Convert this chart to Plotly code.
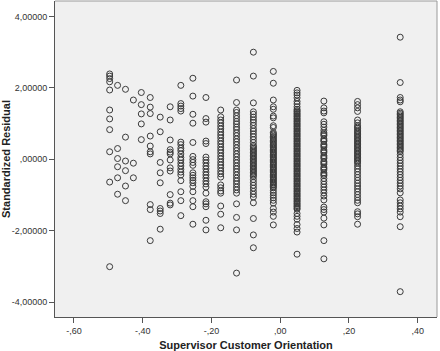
import plotly.graph_objects as go

# x levels (Supervisor Customer Orientation)
x_levels = [-0.496, -0.473, -0.450, -0.427, -0.404, -0.378, -0.349, -0.320, -0.289,
            -0.254, -0.216, -0.173, -0.127, -0.078, -0.020, 0.049, 0.127, 0.225, 0.349]

# standardized residuals per x level
res_a = [2.39, 2.33, 2.26, 2.17, 1.94, 1.38, 1.13, 0.83, 0.21, -0.64, -3.01]
res_b = [2.07, 0.30, 0.02, -0.21, -0.52, -0.98]
res_c = [1.96, 0.62, -0.05, -0.32, -0.75, -1.16]
res_d = [1.66, -0.11, -0.52]
res_e = [1.87, 1.53, 1.27, 0.99, 0.55]
res_f = [1.73, 1.46, 1.28, 0.65, 0.37, 0.21, 0.15, -1.27, -1.41, -2.28]
res_g = [1.18, 0.77, -0.09, -0.38, -0.66, -1.38, -1.45, -1.52, -1.96]
res_h = [1.47, 1.10, 0.54, 0.27, 0.20, 0.15, -0.02, -0.24, -0.33, -0.99, -1.23, -1.28]
res_i = [2.07, 1.56, 1.49, 1.42, 1.35, 0.48, 0.41, 0.31, 0.24, 0.15, 0.05, -0.02, -0.11,
         -0.19, -0.28, -0.36, -0.44, -0.60, -0.91, -1.16, -1.58]
res_j = [2.27, 1.77, 1.26, 1.01, 0.47, 0.08, -0.01, -0.09, -0.17, -0.38, -0.45, -0.52,
         -0.59, -0.66, -0.76, -0.91, -1.16, -1.33, -1.82]
res_k = [1.73, 1.14, 1.04, 0.51, 0.44, 0.06, -0.02, -0.10, -0.19, -0.27, -0.36, -0.44,
         -0.52, -0.61, -0.69, -0.78, -0.95, -1.19, -1.25, -1.33, -1.71, -1.98]
res_l = [1.38, 1.19, 1.10, 1.02, 0.93, 0.85, 0.76, 0.68, 0.60, 0.51, 0.43, 0.34, 0.26,
         0.18, 0.09, 0.01, -0.08, -0.16, -0.24, -0.33, -0.41, -0.50, -0.72, -0.80, -0.89,
         -0.95, -1.31, -1.54, -1.92]
res_m = [2.22, 1.59, 1.38, 1.31, 1.22, 1.14, 1.06, 0.99, 0.90, 0.83, 0.74, 0.66, 0.57,
         0.49, 0.41, 0.32, 0.24, 0.15, 0.07, -0.02, -0.10, -0.19, -0.27, -0.35, -0.44,
         -0.53, -0.61, -0.69, -0.78, -0.86, -0.95, -1.25, -1.63, -1.98, -3.19]
res_n = [3.00, 2.33, 1.58, 1.33, 1.26, 1.18, 1.10, 1.03, 0.95, 0.86, 0.79, 0.71, 0.63,
         0.55, 0.47, 0.39, 0.35, 0.31, 0.27, 0.23, 0.19, 0.15, 0.11, 0.07, 0.03, -0.01,
         -0.05, -0.09, -0.13, -0.17, -0.21, -0.25, -0.29, -0.33, -0.37, -0.41, -0.45,
         -0.49, -0.57, -0.65, -0.73, -0.81, -0.90, -0.98, -1.06, -1.22, -1.66, -2.12,
         -2.48]
res_o = [2.46, 2.13, 1.66, 1.47, 1.40, 1.21, 1.16, 0.94, 0.89, 0.75, 0.71, 0.68, 0.64,
         0.61, 0.57, 0.53, 0.50, 0.46, 0.42, 0.39, 0.35, 0.32, 0.28, 0.25, 0.21, 0.18,
         0.14, 0.11, 0.07, 0.04, 0.00, -0.03, -0.07, -0.10, -0.14, -0.17, -0.21, -0.24,
         -0.28, -0.31, -0.35, -0.38, -0.42, -0.45, -0.49, -0.52, -0.56, -0.59, -0.63,
         -0.66, -0.70, -0.73, -0.77, -0.80, -0.87, -0.94, -1.01, -1.08, -1.15, -1.23,
         -1.38, -1.48, -1.60, -1.84]
res_p = [1.93, 1.86, 1.80, 1.72, 1.62, 1.55, 1.47, 1.40, 1.36, 1.33, 1.29, 1.26, 1.22,
         1.19, 1.15, 1.12, 1.08, 1.05, 1.01, 0.98, 0.94, 0.91, 0.87, 0.84, 0.80, 0.77,
         0.73, 0.70, 0.66, 0.63, 0.59, 0.56, 0.52, 0.49, 0.45, 0.42, 0.38, 0.35, 0.31,
         0.28, 0.24, 0.21, 0.17, 0.14, 0.10, 0.07, 0.03, 0.00, -0.04, -0.07, -0.11, -0.14,
         -0.18, -0.21, -0.25, -0.28, -0.32, -0.35, -0.39, -0.42, -0.46, -0.49, -0.53,
         -0.56, -0.60, -0.63, -0.67, -0.70, -0.74, -0.77, -0.81, -0.84, -0.88, -0.91,
         -0.95, -0.98, -1.02, -1.05, -1.09, -1.12, -1.16, -1.19, -1.23, -1.26, -1.30,
         -1.33, -1.37, -1.40, -1.52, -1.60, -1.68, -1.83, -1.94, -2.04, -2.66]
res_q = [1.63, 1.44, 1.35, 1.30, 1.05, 0.98, 0.90, 0.81, 0.74, 0.70, 0.66, 0.57, 0.53,
         0.50, 0.42, 0.38, 0.34, 0.26, 0.22, 0.18, 0.10, 0.06, 0.02, -0.06, -0.10, -0.14,
         -0.22, -0.26, -0.30, -0.38, -0.42, -0.46, -0.54, -0.62, -0.70, -0.78, -0.86,
         -0.94, -1.03, -1.14, -1.34, -1.41, -1.48, -1.65, -1.84, -2.28, -2.79]
res_r = [1.62, 1.53, 1.44, 1.34, 1.10, 1.02, 0.94, 0.90, 0.86, 0.81, 0.77, 0.73, 0.69,
         0.65, 0.61, 0.57, 0.53, 0.49, 0.45, 0.41, 0.37, 0.33, 0.29, 0.25, 0.21, 0.17,
         0.13, 0.09, 0.05, 0.01, -0.03, -0.07, -0.11, -0.19, -0.27, -0.35, -0.43, -0.51,
         -0.59, -0.67, -0.75, -0.83, -0.91, -0.99, -1.07, -1.15, -1.22, -1.47, -1.53,
         -1.61, -1.82]
res_s = [3.42, 2.15, 1.73, 1.66, 1.61, 1.33, 1.29, 1.25, 1.21, 1.17, 1.13, 1.09, 1.05,
         1.01, 0.97, 0.93, 0.89, 0.85, 0.81, 0.77, 0.73, 0.69, 0.65, 0.61, 0.57, 0.53,
         0.49, 0.45, 0.41, 0.37, 0.33, 0.29, 0.25, 0.21, 0.13, 0.05, -0.03, -0.11, -0.19,
         -0.27, -0.35, -0.43, -0.51, -0.59, -0.67, -0.75, -0.83, -0.94, -1.14, -1.22,
         -1.31, -1.39, -1.48, -1.61, -1.89, -3.71]

residual_columns = [res_a, res_b, res_c, res_d, res_e, res_f, res_g, res_h, res_i, res_j,
                    res_k, res_l, res_m, res_n, res_o, res_p, res_q, res_r, res_s]

x_tick_vals = [-0.6, -0.4, -0.2, 0.0, 0.2, 0.4]
x_tick_text = ["-,60", "-,40", "-,20", ",00", ",20", ",40"]
y_tick_vals = [4, 2, 0, -2, -4]
y_tick_text = ["4,00000", "2,00000", ",00000", "-2,00000", "-4,00000"]

xs, ys = [], []
for xv, col in zip(x_levels, residual_columns):
    for v in col:
        xs.append(xv)
        ys.append(v)

fig = go.Figure()
fig.add_trace(go.Scatter(
    x=xs, y=ys, mode="markers",
    marker=dict(symbol="circle-open", size=6, color="#3a3a3a", line=dict(width=1)),
    showlegend=False, hoverinfo="skip",
))

font_family = "Liberation Sans, Arial, sans-serif"
fig.update_layout(
    width=440, height=351,
    margin=dict(l=52, r=3, t=1, b=34),
    paper_bgcolor="white",
    plot_bgcolor="#F0F0F0",
    font=dict(family=font_family, color="#222"),
    xaxis=dict(
        range=[-0.655, 0.456], tickvals=x_tick_vals, ticktext=x_tick_text,
        showgrid=False, zeroline=False, showline=True, linecolor="#555", linewidth=1,
        ticks="outside", ticklen=5, tickcolor="#555", tickwidth=1,
        tickfont=dict(size=9, color="#333"),
        title=dict(text="<b>Supervisor Customer Orientation</b>",
                   font=dict(size=11, color="#222"), standoff=6),
    ),
    yaxis=dict(
        range=[-4.42, 4.434], tickvals=y_tick_vals, ticktext=y_tick_text,
        showgrid=False, zeroline=False, showline=True, linecolor="#555", linewidth=1,
        ticks="outside", ticklen=5, tickcolor="#555", tickwidth=1,
        tickfont=dict(size=9, color="#333"),
        title=dict(text="<b>Standardized Residual</b>",
                   font=dict(size=11, color="#222"), standoff=3),
    ),
)
# top and right frame lines
fig.add_shape(type="line", xref="paper", yref="paper", x0=0, x1=1, y0=1, y1=1,
              line=dict(color="#9a9a9a", width=1))
fig.add_shape(type="line", xref="paper", yref="paper", x0=1, x1=1, y0=0, y1=1,
              line=dict(color="#9a9a9a", width=1))

fig.write_html("out.html")
